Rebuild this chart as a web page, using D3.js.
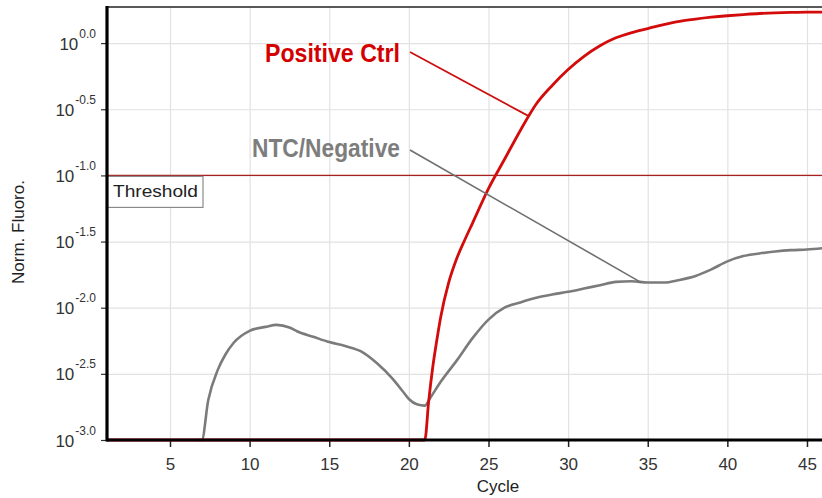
<!DOCTYPE html>
<html><head><meta charset="utf-8">
<script src="https://cdn.jsdelivr.net/npm/d3@7"></script>
<style>
html,body{margin:0;padding:0;background:#fff;}
svg{display:block;font-family:"Liberation Sans",Arial,Helvetica,sans-serif;}
</style>
</head><body>
<svg id="chart" width="822" height="498"></svg>
<script>
// ---- data ----
const xTicks = [5, 10, 15, 20, 25, 30, 35, 40, 45];
const yTickExps = [0, -0.5, -1, -1.5, -2, -2.5, -3];
const yTickLabels = ["0.0", "-0.5", "-1.0", "-1.5", "-2.0", "-2.5", "-3.0"];
const thresholdExp = -1.0;

// Positive control: cycle and log10(Norm. Fluoro.)
const posCycles = [1, 5, 10, 15, 20, 21, 21.25, 21.5, 21.75, 22, 22.5, 23, 23.5, 24, 25, 26, 27, 28, 29, 30,
  31, 32, 33, 34, 35, 36, 37, 38, 39, 40, 41, 42, 43, 44, 45, 46];
const posExp = [-3, -3, -3, -3, -3, -3, -2.70, -2.45, -2.25, -2.07, -1.81, -1.63, -1.49, -1.36, -1.10, -0.88, -0.66, -0.46, -0.32, -0.20,
  -0.10, -0.02, 0.04, 0.08, 0.11, 0.14, 0.165, 0.182, 0.196, 0.207, 0.216, 0.224, 0.229, 0.232, 0.234, 0.235];

// NTC / negative: cycle and log10(Norm. Fluoro.)
const ntcCycles = [6.5, 7, 7.4, 8, 8.5, 9, 10, 11, 11.7, 12.5, 13, 14, 15, 16, 17, 18, 19, 19.6, 20, 20.5, 21, 21.35,
  22, 23, 24, 25, 26, 27, 28, 29, 30, 31, 32, 33, 34, 35, 36, 37, 38, 39, 40, 41, 42, 43, 44, 45, 46];
const ntcExp = [-3, -3, -2.70, -2.47, -2.35, -2.265, -2.175, -2.145, -2.13, -2.15, -2.18, -2.22, -2.26, -2.29, -2.33, -2.42, -2.54, -2.63, -2.69, -2.73, -2.74, -2.68,
  -2.56, -2.40, -2.23, -2.09, -2.00, -1.96, -1.925, -1.90, -1.88, -1.855, -1.83, -1.805, -1.80, -1.81, -1.81, -1.79, -1.76, -1.71, -1.65, -1.61, -1.59, -1.575, -1.565, -1.56, -1.55];

const seriesNames = ["Positive Ctrl", "NTC/Negative"];
const pointerCycles = [27.5, 34.6];   // where annotation leaders touch the curves
const pointerExps = [-0.55, -1.81];

// ---- layout ----
const W = 822, H = 498;
const L = 107, T = 7, B = 440;
const svg = d3.select("#chart");
svg.append("rect").attr("width", W).attr("height", H).attr("fill", "#fff");

const x = d3.scaleLinear().domain([1, 46]).range([106.3, 822.9]);
const y = d3.scaleLog().domain([Math.pow(10, -3), Math.pow(10, 0.273)]).range([B, T]);

const pos = posCycles.map((c, i) => ({c, v: Math.pow(10, posExp[i])}));
const ntc = ntcCycles.map((c, i) => ({c, v: Math.pow(10, ntcExp[i])}));
const yTickVals = yTickExps.map(e => Math.pow(10, e));

// clip
svg.append("clipPath").attr("id", "plot").append("rect")
  .attr("x", L).attr("y", T).attr("width", W - L).attr("height", B - T + 3);

// gridlines
const gx = svg.append("g").attr("transform", `translate(0,${B})`)
  .call(d3.axisBottom(x).tickValues(xTicks).tickSize(-(B - T)).tickFormat(""));
gx.select(".domain").remove();
gx.selectAll("line").attr("stroke", "#e2e2e2").attr("stroke-width", 1.2);
const gy = svg.append("g").attr("transform", `translate(${L},0)`)
  .call(d3.axisLeft(y).tickValues(yTickVals).tickSize(-(W - L)).tickFormat(""));
gy.select(".domain").remove();
gy.selectAll("line").attr("stroke", "#e2e2e2").attr("stroke-width", 1.2);

// threshold
const ty = y(Math.pow(10, thresholdExp));
svg.append("line").attr("x1", L).attr("x2", W).attr("y1", ty).attr("y2", ty)
  .attr("stroke", "#a82020").attr("stroke-width", 1.4);
svg.append("rect").attr("x", L).attr("y", ty + 1).attr("width", 96).attr("height", 31)
  .attr("fill", "#fff").attr("stroke", "#8a8a8a").attr("stroke-width", 1.2);
svg.append("text").attr("x", 113).attr("y", ty + 22).attr("font-size", 16)
  .attr("fill", "#222").attr("textLength", 85).attr("lengthAdjust", "spacingAndGlyphs").text("Threshold");

// axes
const ax = svg.append("g").attr("transform", `translate(0,${B})`)
  .call(d3.axisBottom(x).tickValues(xTicks).tickSize(7).tickPadding(11).tickFormat(d3.format("d")));
ax.select(".domain").remove();
ax.selectAll("line").attr("stroke", "#222").attr("stroke-width", 1.5);
ax.selectAll("text").attr("font-size", 17).attr("fill", "#333").attr("font-family", "Liberation Sans, Arial, sans-serif");

const ay = svg.append("g").attr("transform", `translate(${L},0)`)
  .call(d3.axisLeft(y).tickValues(yTickVals).tickSize(6).tickFormat(""));
ay.select(".domain").remove();
ay.selectAll("line").attr("stroke", "#333").attr("stroke-width", 1.2);
ay.selectAll(".tick").each(function(d, i) {
  const t = d3.select(this).append("text").attr("x", -11).attr("y", 6)
    .attr("text-anchor", "end").attr("fill", "#333");
  t.append("tspan").attr("font-size", 17).text("10");
  t.append("tspan").attr("font-size", 12).attr("dy", -12).attr("dx", 1).text(yTickLabels[i]);
});

// frame lines
svg.append("line").attr("x1", L).attr("x2", W).attr("y1", T).attr("y2", T)
  .attr("stroke", "#222").attr("stroke-width", 1.6);

// curves
const line = d3.line().x(d => x(d.c)).y(d => y(d.v)).curve(d3.curveMonotoneX);
const plot = svg.append("g").attr("clip-path", "url(#plot)");

svg.append("line").attr("x1", L).attr("x2", W).attr("y1", B).attr("y2", B)
  .attr("stroke", "#000").attr("stroke-width", 3);

plot.append("path").datum(ntc).attr("d", line).attr("fill", "none")
  .attr("stroke", "#7b7b7b").attr("stroke-width", 2.6).attr("stroke-linejoin", "round");
plot.append("path").datum(pos).attr("d", line).attr("fill", "none")
  .attr("stroke", "#d30b0b").attr("stroke-width", 2.8).attr("stroke-linejoin", "round");

svg.append("line").attr("x1", L).attr("x2", L).attr("y1", T - 1).attr("y2", B + 1.5)
  .attr("stroke", "#000").attr("stroke-width", 3.2);

// annotations
svg.append("text").attr("x", 265).attr("y", 62).attr("font-size", 25).attr("font-weight", "bold")
  .attr("fill", "#d40000").attr("textLength", 135).attr("lengthAdjust", "spacingAndGlyphs").text(seriesNames[0]);
svg.append("line").attr("x1", 410).attr("y1", 52)
  .attr("x2", x(pointerCycles[0])).attr("y2", y(Math.pow(10, pointerExps[0])))
  .attr("stroke", "#cc1010").attr("stroke-width", 1.8);

svg.append("text").attr("x", 252).attr("y", 157).attr("font-size", 25).attr("font-weight", "bold")
  .attr("fill", "#7d7d7d").attr("textLength", 148).attr("lengthAdjust", "spacingAndGlyphs").text(seriesNames[1]);
svg.append("line").attr("x1", 410).attr("y1", 150)
  .attr("x2", x(pointerCycles[1])).attr("y2", y(Math.pow(10, pointerExps[1])))
  .attr("stroke", "#707070").attr("stroke-width", 1.6);

// axis titles
svg.append("text").attr("x", 498).attr("y", 492).attr("text-anchor", "middle")
  .attr("font-size", 17).attr("fill", "#222").text("Cycle");
svg.append("text").attr("transform", "translate(24,232) rotate(-90)").attr("text-anchor", "middle")
  .attr("font-size", 17).attr("fill", "#222").text("Norm. Fluoro.");
</script>
</body></html>
